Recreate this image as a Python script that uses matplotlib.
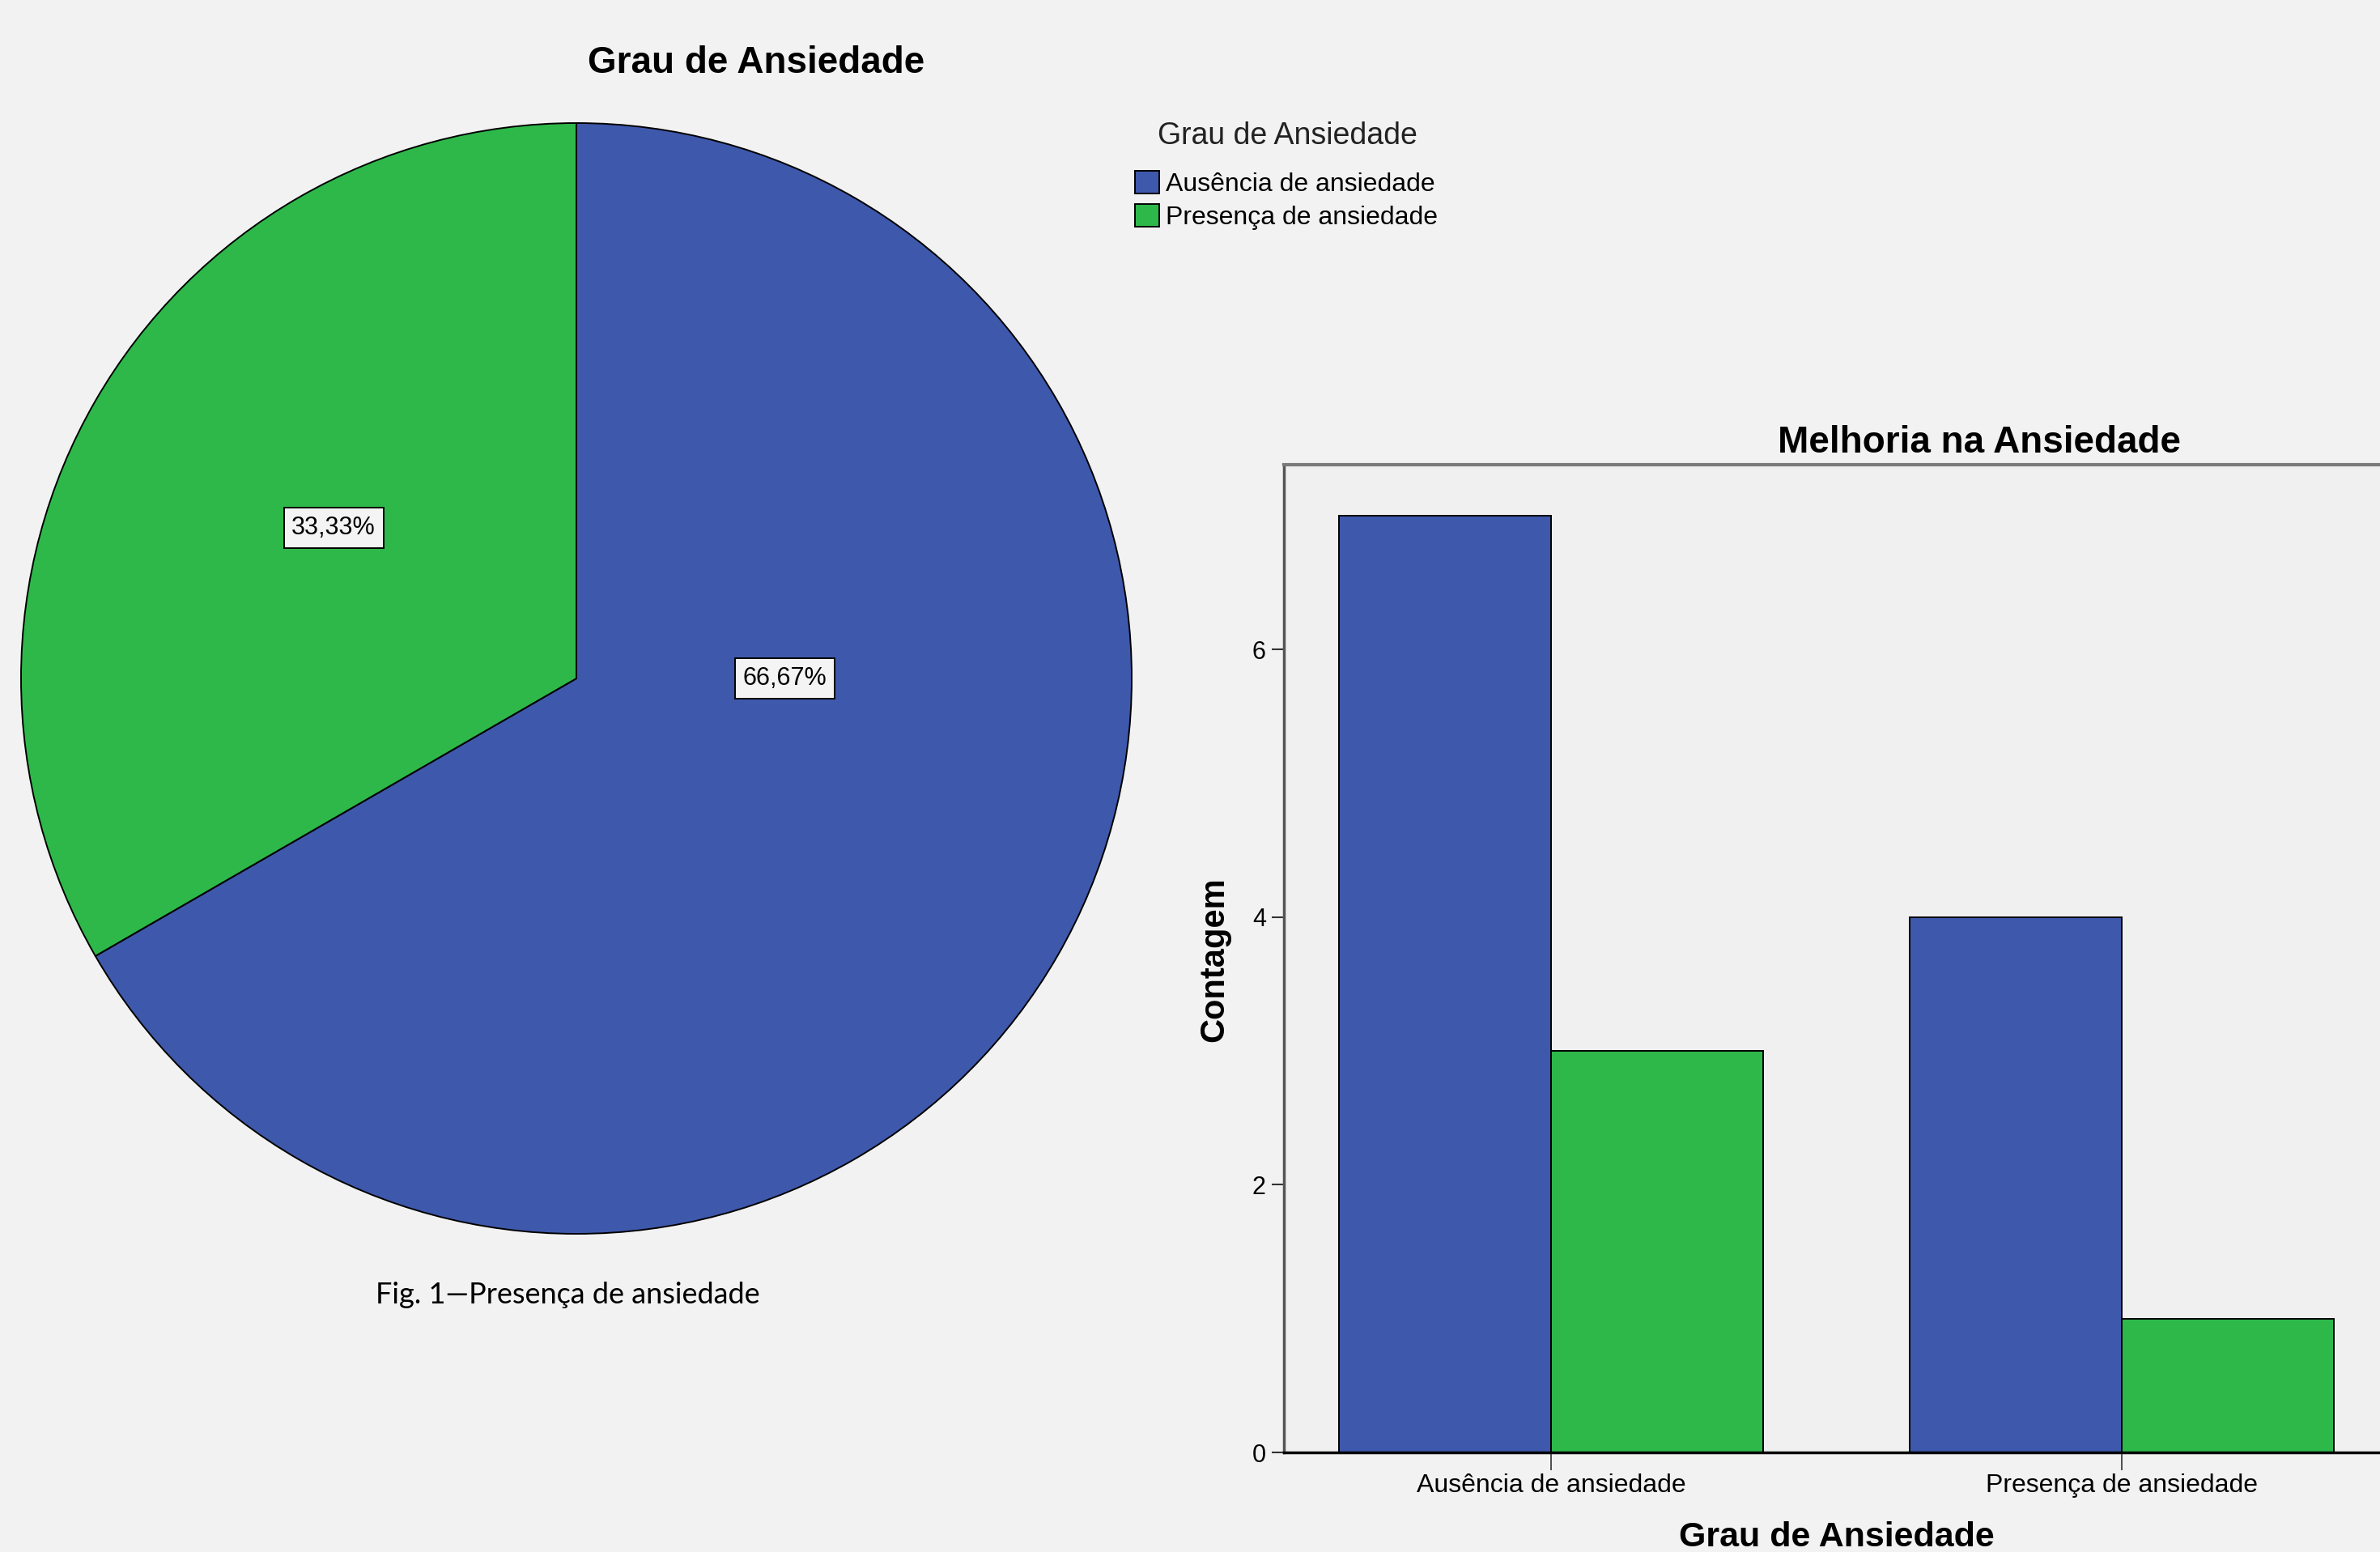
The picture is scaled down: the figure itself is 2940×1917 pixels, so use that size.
import numpy as np
import matplotlib.pyplot as plt

plt.rcParams['font.family'] = ['Liberation Sans', 'DejaVu Sans']

# Data
categories = ['Ausência de ansiedade', 'Presença de ansiedade']
pie_pct = [66.67, 33.33]
pie_labels = ['66,67%', '33,33%']
counts_blue = [7, 4]
counts_green = [3, 1]
yticks = [0, 2, 4, 6]

blue = '#3E58AB'
green = '#2EB84A'
bg = '#F2F2F2'

W, H = 2940, 1917


def fx(px):
    return px / W


def fy(py):
    return 1 - py / H


fig = plt.figure(figsize=(W / 100, H / 100), dpi=100, facecolor=bg)

# Pie chart
ax1 = fig.add_axes([fx(26), fy(1524), 1372 / W, 1372 / H])
wedges, _ = ax1.pie(pie_pct, colors=[blue, green], startangle=90, counterclock=False,
                    wedgeprops=dict(edgecolor='black', linewidth=1.4))
ax1.set_xlim(-1, 1)
ax1.set_ylim(-1, 1)

# label positions (fraction of radius)
label_pos = [(0.375, 0.0), (-0.437, 0.271)]
for (lx, ly), lab in zip(label_pos, pie_labels):
    ax1.text(lx, ly, lab, ha='center', va='center', fontsize=22,
             bbox=dict(boxstyle='square,pad=0.32', fc='#F4F4F4', ec='black', lw=1.4))

fig.text(fx(934), fy(78), 'Grau de Ansiedade', ha='center', va='center',
         fontsize=33, fontweight='bold')

# legend
fig.text(fx(1590), fy(168), 'Grau de Ansiedade', ha='center', va='center',
         fontsize=27, color='#222222')
ax1.legend(wedges, categories, loc='upper left',
           bbox_to_anchor=(fx(1402), fy(211)), bbox_transform=fig.transFigure,
           frameon=False, fontsize=23, handlelength=0.95,
           handleheight=0.95, handletextpad=0.25, labelspacing=0.3,
           borderpad=0, borderaxespad=0)

fig.text(fx(701), fy(1599), 'Fig. 1\u2014Presença de ansiedade', ha='center', va='center',
         fontsize=26, family=['Lato', 'DejaVu Sans'])

# Bar chart
ax2 = fig.add_axes([fx(1586), fy(1794), 1365 / W, 1220 / H], facecolor='#F0F0F0')
x = np.arange(len(categories))
w = 0.371
ax2.bar(x - w / 2, counts_blue, w, color=blue, edgecolor='black', linewidth=1.4)
ax2.bar(x + w / 2, counts_green, w, color=green, edgecolor='black', linewidth=1.4)
ax2.set_xlim(-0.468, 1.468)
ax2.set_ylim(0, 7.38)
ax2.set_yticks(yticks)
ax2.set_xticks(x, categories)
ax2.spines['left'].set_color('#555555')
ax2.spines['left'].set_linewidth(2.5)
ax2.spines['bottom'].set_color('black')
ax2.spines['bottom'].set_linewidth(2.5)
ax2.spines['top'].set_color('#7A7A7A')
ax2.spines['top'].set_linewidth(3)
ax2.spines['right'].set_color('#7A7A7A')
ax2.tick_params(axis='y', length=11, width=1.5, pad=5, labelsize=22, color='#333333')
ax2.tick_params(axis='x', length=16, width=1.2, pad=3, labelsize=23, color='#333333')

fig.text(fx(2445), fy(547), 'Melhoria na Ansiedade', ha='center', va='center',
         fontsize=33, fontweight='bold')
fig.text(fx(1500), fy(1185), 'Contagem', ha='center', va='center', rotation=90,
         fontsize=30, fontweight='bold')
fig.text(fx(2269), fy(1899), 'Grau de Ansiedade', ha='center', va='center',
         fontsize=31, fontweight='bold')

fig.savefig('out.png', dpi=100, facecolor=fig.get_facecolor())
